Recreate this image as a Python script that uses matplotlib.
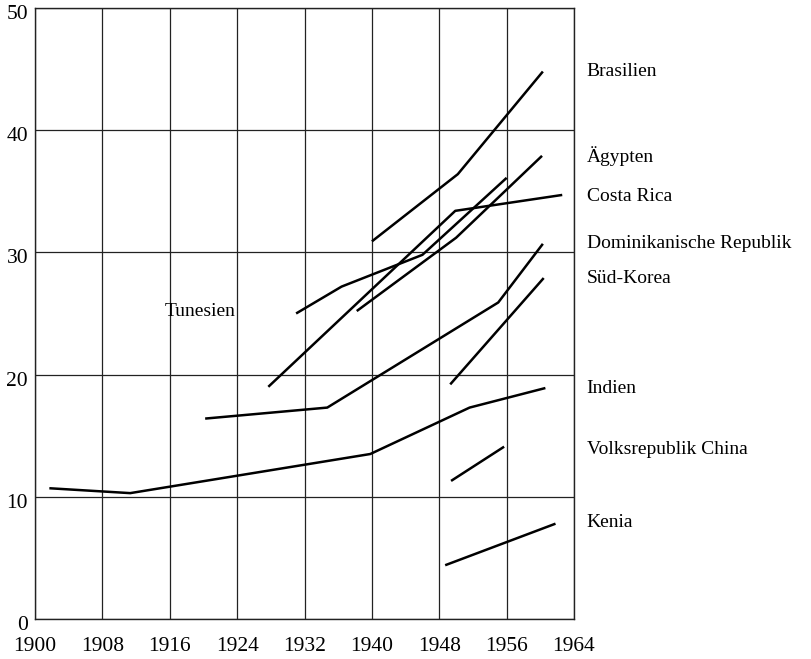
import matplotlib.pyplot as plt
from matplotlib.transforms import ScaledTranslation

plt.rcParams['font.family'] = ['Liberation Serif', 'DejaVu Serif']

# years and values
brasilien_x = [1940.0, 1950.2, 1960.3]
brasilien_y = [30.9, 36.4, 44.8]

aegypten_x = [1938.2, 1950.0, 1960.2]
aegypten_y = [25.2, 31.2, 37.9]

costa_rica_x = [1927.7, 1949.9, 1962.6]
costa_rica_y = [19.0, 33.4, 34.7]

tunesien_x = [1931.0, 1936.4, 1946.0, 1956.0]
tunesien_y = [25.0, 27.2, 29.8, 36.1]

dom_rep_x = [1920.2, 1934.7, 1955.0, 1960.3]
dom_rep_y = [16.4, 17.3, 25.9, 30.7]

sued_korea_x = [1949.3, 1960.4]
sued_korea_y = [19.2, 27.9]

indien_x = [1901.7, 1911.3, 1939.8, 1951.6, 1960.6]
indien_y = [10.7, 10.3, 13.5, 17.3, 18.9]

china_x = [1949.4, 1955.7]
china_y = [11.3, 14.1]

kenia_x = [1948.7, 1961.8]
kenia_y = [4.4, 7.8]

series = [
    (brasilien_x, brasilien_y),
    (aegypten_x, aegypten_y),
    (costa_rica_x, costa_rica_y),
    (tunesien_x, tunesien_y),
    (dom_rep_x, dom_rep_y),
    (sued_korea_x, sued_korea_y),
    (indien_x, indien_y),
    (china_x, china_y),
    (kenia_x, kenia_y),
]

# right-hand labels and the height they sit at
right_labels = ['Brasilien', 'Ägypten', 'Costa Rica', 'Dominikanische Republik',
                'Süd-Korea', 'Indien', 'Volksrepublik China', 'Kenia']
right_label_y = [44.8, 37.9, 34.6, 30.7, 27.9, 18.9, 13.9, 7.9]

x_ticks = [1900, 1908, 1916, 1924, 1932, 1940, 1948, 1956, 1964]
y_ticks = [0, 10, 20, 30, 40, 50]

fig = plt.figure(figsize=(8.11, 6.59), dpi=100)
ax = fig.add_axes([0.0432, 0.0607, 0.7078 - 0.0432, 0.9879 - 0.0607])

for xs, ys in series:
    ax.plot(xs, ys, color='black', linewidth=1.8, solid_capstyle='butt', zorder=3)

ax.set_xlim(1900, 1964)
ax.set_ylim(0, 50)
ax.set_xticks(x_ticks)
ax.set_yticks(y_ticks)
ax.set_xticklabels([str(t) for t in x_ticks])
ax.set_yticklabels([str(t) for t in y_ticks])
ax.tick_params(length=0, labelsize=15.5, colors='black')
ax.tick_params(axis='x', pad=13)
ax.tick_params(axis='y', pad=5)

# y labels sit a little below their grid lines in the original
shift = ScaledTranslation(0, -4 / 100, fig.dpi_scale_trans)
for lab in ax.get_yticklabels():
    lab.set_transform(lab.get_transform() + shift)

ax.grid(True, color='#222222', linewidth=0.9)
ax.set_axisbelow(True)
for s in ax.spines.values():
    s.set_color('#222222')
    s.set_linewidth(1.0)

for name, yv in zip(right_labels, right_label_y):
    ax.text(1965.5, yv, name, fontsize=14, va='center', ha='left', clip_on=False)

ax.text(1915.4, 25.2, 'Tunesien', fontsize=14, va='center', ha='left')

fig.savefig('out.png', dpi=100)
